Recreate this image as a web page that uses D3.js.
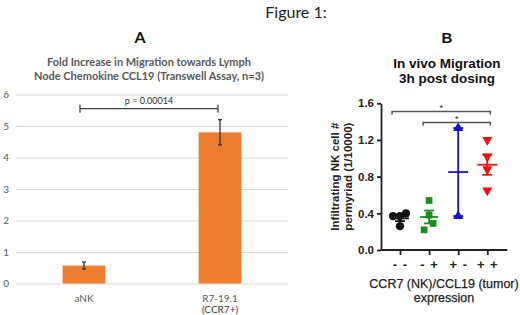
<!DOCTYPE html>
<html>
<head>
<meta charset="utf-8">
<script src="https://cdn.jsdelivr.net/npm/d3@7"></script>
<style>
  body { margin: 0; background: #fff; }
  svg { display: block; }
  .a-font { font-family: Lato, "Open Sans", sans-serif; }
  .b-font { font-family: "Liberation Sans", Arial, sans-serif; }
</style>
</head>
<body>
<script>
// panel A: transwell fold increase
var aCategories = ["aNK", "R7-19.1"];
var aCategorySub = ["", "(CCR7+)"];
var aValues = [0.57, 4.8];
var aErrors = [0.11, 0.4];
var aTicks = [0, 1, 2, 3, 4, 5, 6];
var aPLabel = "p = 0.00014";

// panel B: in vivo migration
var bGroups = ["- -", "- +", "+ -", "+ +"];
var bPoints = [
  [0.37, 0.37, 0.40, 0.26],
  [0.54, 0.38, 0.29, 0.22],
  [1.33, 0.37],
  [1.20, 1.02, 0.88, 0.65]
];
var bMeans = [0.345, 0.36, 0.85, 0.93];
var bSems = [0.03, 0.07, 0.48, 0.11];
var bTicks = [0, 0.4, 0.8, 1.2, 1.6];

var W = 520, H = 315;
var svg = d3.select("body").append("svg")
  .attr("width", W)
  .attr("height", H);

svg.append("text")
  .attr("class", "a-font")
  .attr("x", 296).attr("y", 18)
  .attr("text-anchor", "middle")
  .attr("font-size", 16)
  .attr("fill", "#222")
  .text("Figure 1:");

// ---------- panel A ----------
var gA = svg.append("g").attr("class", "a-font");

var yA = d3.scaleLinear().domain([0, 6]).range([283.5, 94.5]);
var xA = d3.scaleBand().domain(aCategories).range([16, 288])
  .paddingInner(0.686).paddingOuter(0.343);

gA.append("text")
  .attr("x", 140).attr("y", 43)
  .attr("text-anchor", "middle")
  .attr("font-size", 16).attr("font-weight", "bold")
  .attr("fill", "#111")
  .text("A");

gA.selectAll(".a-title")
  .data(["Fold Increase in Migration towards Lymph", "Node Chemokine CCL19 (Transwell Assay, n=3)"])
  .enter().append("text")
  .attr("class", "a-title")
  .attr("x", 149)
  .attr("y", function(d, i) { return 66 + i * 13.5; })
  .attr("text-anchor", "middle")
  .attr("font-size", 11).attr("font-weight", "bold")
  .attr("fill", "#595959")
  .text(function(d) { return d; });

var yAxisA = d3.axisLeft(yA).tickValues(aTicks).tickFormat(d3.format("d"))
  .tickSize(-272).tickPadding(7);
var gAxA = gA.append("g")
  .attr("transform", "translate(16,0)")
  .call(yAxisA);
gAxA.select(".domain").remove();
gAxA.selectAll(".tick line").attr("stroke", "#d9d9d9").attr("stroke-width", 1);
gAxA.selectAll(".tick text").attr("fill", "#595959").attr("font-size", 10)
  .attr("font-family", "Lato, 'Open Sans', sans-serif");

gA.selectAll(".bar")
  .data(aValues)
  .enter().append("rect")
  .attr("class", "bar")
  .attr("x", function(d, i) { return xA(aCategories[i]); })
  .attr("width", xA.bandwidth())
  .attr("y", function(d) { return yA(d); })
  .attr("height", function(d) { return yA(0) - yA(d); })
  .attr("fill", "#ed7d31");

// error bars
aValues.forEach(function(v, i) {
  var cx = xA(aCategories[i]) + xA.bandwidth() / 2;
  var e = aErrors[i];
  gA.append("line")
    .attr("x1", cx).attr("x2", cx)
    .attr("y1", yA(v + e)).attr("y2", yA(v - e))
    .attr("stroke", "#333").attr("stroke-width", 1.3);
  [v + e, v - e].forEach(function(t) {
    gA.append("line")
      .attr("x1", cx - 2).attr("x2", cx + 2)
      .attr("y1", yA(t)).attr("y2", yA(t))
      .attr("stroke", "#333").attr("stroke-width", 1.3);
  });
});

// significance bracket
var bx1 = xA(aCategories[0]) + xA.bandwidth() / 2 - 4;
var bx2 = xA(aCategories[1]) + xA.bandwidth() / 2 - 2;
var by = yA(5.55);
gA.append("path")
  .attr("d", "M" + bx1 + "," + (by - 4) + "V" + (by + 4) + "M" + bx1 + "," + by +
    "H" + bx2 + "M" + bx2 + "," + (by - 4) + "V" + (by + 4))
  .attr("fill", "none").attr("stroke", "#444").attr("stroke-width", 1.3);
gA.append("text")
  .attr("x", (bx1 + bx2) / 2).attr("y", by - 5)
  .attr("text-anchor", "middle")
  .attr("font-size", 9).attr("fill", "#333")
  .text(aPLabel);

// category labels
gA.selectAll(".a-cat")
  .data(aCategories)
  .enter().append("text")
  .attr("class", "a-cat")
  .attr("x", function(d) { return xA(d) + xA.bandwidth() / 2; })
  .attr("y", 302)
  .attr("text-anchor", "middle")
  .attr("font-size", 10).attr("fill", "#595959")
  .text(function(d) { return d; });
gA.selectAll(".a-sub")
  .data(aCategorySub)
  .enter().append("text")
  .attr("class", "a-sub")
  .attr("x", function(d, i) { return xA(aCategories[i]) + xA.bandwidth() / 2; })
  .attr("y", 313)
  .attr("text-anchor", "middle")
  .attr("font-size", 10).attr("fill", "#404040")
  .text(function(d) { return d; });

// ---------- panel B ----------
var gB = svg.append("g").attr("class", "b-font");

var yB = d3.scaleLinear().domain([0, 1.6]).range([250, 103.3]);
var xB = d3.scalePoint().domain(bGroups).range([400, 487.3]);
var axisX0 = 381;

gB.append("text")
  .attr("x", 447).attr("y", 43)
  .attr("text-anchor", "middle")
  .attr("font-size", 15).attr("font-weight", "bold")
  .attr("fill", "#111")
  .text("B");

gB.selectAll(".b-title")
  .data(["In vivo Migration", "3h post dosing"])
  .enter().append("text")
  .attr("class", "b-title")
  .attr("x", 447)
  .attr("y", function(d, i) { return 68 + i * 14.5; })
  .attr("text-anchor", "middle")
  .attr("font-size", 13.5).attr("font-weight", "bold")
  .attr("fill", "#111")
  .text(function(d) { return d; });

var yAxisB = d3.axisLeft(yB).tickValues(bTicks).tickFormat(d3.format(".1f"))
  .tickSize(4).tickSizeOuter(0).tickPadding(3);
var gAxB = gB.append("g")
  .attr("transform", "translate(" + axisX0 + ",0)")
  .call(yAxisB);
gAxB.selectAll("path, line").attr("stroke", "#222").attr("stroke-width", 1.8);
gAxB.selectAll(".tick text").attr("font-size", 11.5).attr("font-weight", "bold")
  .attr("fill", "#222").attr("font-family", "'Liberation Sans', Arial, sans-serif");

var xAxisB = d3.axisBottom(xB).tickSize(5).tickPadding(5);
var gAxBx = gB.append("g")
  .attr("transform", "translate(0," + yB(0) + ")")
  .call(xAxisB);
gAxBx.select(".domain")
  .attr("d", "M" + axisX0 + ",0H" + (xB.range()[1] + 20));
gAxBx.selectAll("path, line").attr("stroke", "#222").attr("stroke-width", 1.8);
gAxBx.selectAll(".tick text").attr("font-size", 13).attr("font-weight", "bold")
  .attr("fill", "#222").attr("font-family", "'Liberation Sans', Arial, sans-serif")
  .attr("letter-spacing", 1);

// axis titles
gB.selectAll(".b-xt")
  .data(["CCR7 (NK)/CCL19 (tumor)", "expression"])
  .enter().append("text")
  .attr("class", "b-xt")
  .attr("x", 444)
  .attr("y", function(d, i) { return 288 + i * 13.5; })
  .attr("text-anchor", "middle")
  .attr("font-size", 12.5).attr("fill", "#222")
  .attr("stroke", "#222").attr("stroke-width", 0.25)
  .text(function(d) { return d; });

gB.selectAll(".b-yt")
  .data(["Infiltrating NK cell #", "permyriad (1/10000)"])
  .enter().append("text")
  .attr("class", "b-yt")
  .attr("transform", function(d, i) {
    return "translate(" + (339 + i * 13) + "," + yB(0.8) + ") rotate(-90)";
  })
  .attr("text-anchor", "middle")
  .attr("font-size", 11.5).attr("font-weight", "bold")
  .attr("fill", "#222")
  .text(function(d) { return d; });

// scatter groups
var bColors = ["#111111", "#1a8c1a", "#1515d0", "#ee1111"];
var bShapes = [d3.symbolCircle, d3.symbolSquare, d3.symbolTriangle, d3.symbolTriangle];
var bSizes = [55, 45, 45, 45];
var bJitter = [[-7, 0, 6, 0], [0, 0, 4, -5], [0, 0], [0, 0, 0, 0]];

bGroups.forEach(function(g, gi) {
  var cx = xB(g);
  var col = bColors[gi];
  var m = bMeans[gi], s = bSems[gi];
  var halfMean = gi < 2 ? 9 : 10;
  var halfCap = 5;

  gB.selectAll(".pt" + gi)
    .data(bPoints[gi])
    .enter().append("path")
    .attr("class", "pt" + gi)
    .attr("d", d3.symbol().type(bShapes[gi]).size(bSizes[gi]))
    .attr("transform", function(d, i) {
      return "translate(" + (cx + bJitter[gi][i]) + "," + yB(d) + ")" + (gi === 3 ? " rotate(180)" : "");
    })
    .attr("fill", col);

  gB.append("line")
    .attr("x1", cx).attr("x2", cx)
    .attr("y1", yB(m + s)).attr("y2", yB(m - s))
    .attr("stroke", col).attr("stroke-width", 1.8);
  gB.append("line")
    .attr("x1", cx - halfMean).attr("x2", cx + halfMean)
    .attr("y1", yB(m)).attr("y2", yB(m))
    .attr("stroke", col).attr("stroke-width", 1.8);
  [m + s, m - s].forEach(function(t) {
    gB.append("line")
      .attr("x1", cx - halfCap).attr("x2", cx + halfCap)
      .attr("y1", yB(t)).attr("y2", yB(t))
      .attr("stroke", col).attr("stroke-width", 1.8);
  });
});

// significance brackets
var sigPairs = [[0, 3, 1.51, -8], [1, 3, 1.39, -6]];
sigPairs.forEach(function(p) {
  var x1 = xB(bGroups[p[0]]) + p[3];
  var x2 = xB(bGroups[p[1]]) + 3;
  var y = yB(p[2]);
  gB.append("path")
    .attr("d", "M" + x1 + "," + (y + 3) + "V" + y + "H" + x2 + "V" + (y + 3))
    .attr("fill", "none").attr("stroke", "#555").attr("stroke-width", 1.6);
  gB.append("text")
    .attr("x", (x1 + x2) / 2).attr("y", y - 1)
    .attr("text-anchor", "middle")
    .attr("font-size", 9).attr("fill", "#222")
    .text("*");
});
</script>
</body>
</html>
